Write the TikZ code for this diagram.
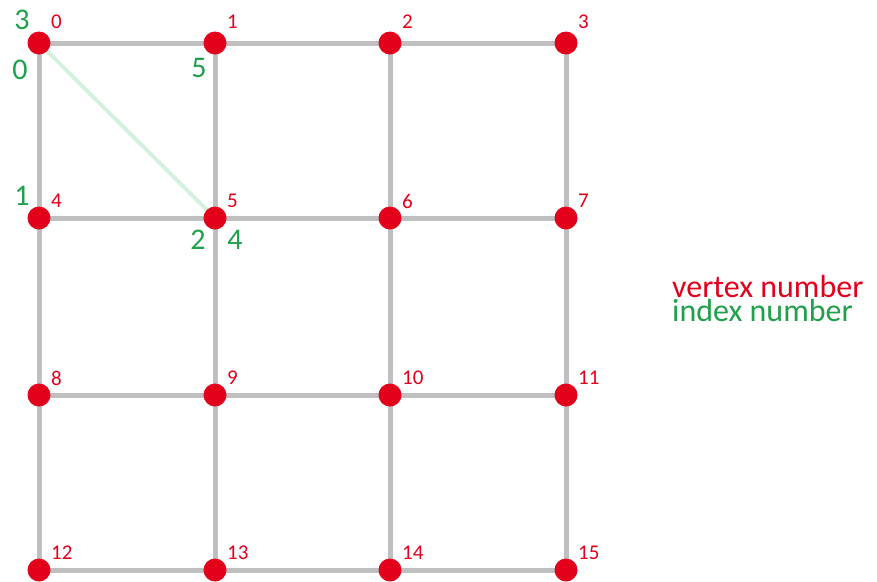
\documentclass[tikz,border=0pt]{standalone}
\usepackage{fontspec}
\setmainfont{Carlito}
\definecolor{vred}{HTML}{E2001A}
\definecolor{igreen}{HTML}{1FA04A}
\definecolor{egray}{HTML}{BFBFBF}
\definecolor{lgreen}{HTML}{D3F1DE}
\begin{document}
\begin{tikzpicture}[x=1pt,y=-1pt,
  vtx/.style={circle,fill=vred,inner sep=0pt,minimum size=23pt},
  edge/.style={egray,line width=5pt},
  diag/.style={lgreen,line width=4pt},
  vlab/.style={text=vred,font=\fontsize{21}{21}\selectfont,anchor=west,inner sep=0pt},
  ilab/.style={text=igreen,font=\fontsize{30}{30}\selectfont,inner sep=0pt},
  leg/.style={font=\fontsize{32}{32}\selectfont,anchor=base west,inner sep=0pt}]
\useasboundingbox (0,0) rectangle (877,581);
\foreach \i/\x/\y in {0/39/43,1/215/43,2/390/43,3/566/43,
                      4/39/218,5/215/218,6/390/218,7/566/218,
                      8/39/395,9/215/395,10/390/395,11/566/395,
                      12/39/570,13/215/570,14/390/570,15/566/570}
  \coordinate (p\i) at (\x,\y);
% grid edges
\foreach \a/\b in {0/1,1/2,2/3,4/5,5/6,6/7,8/9,9/10,10/11,12/13,13/14,14/15,
                   0/4,4/8,8/12,1/5,5/9,9/13,2/6,6/10,10/14,3/7,7/11,11/15}
  \draw[edge] (p\a) -- (p\b);
\draw[diag] (p0) -- (p5);
% vertices
\foreach \i in {0,...,15}
  \node[vtx] (v\i) at (p\i) {};
% vertex labels
\foreach \i/\dy in {0/-21,1/-21,2/-21,3/-21,4/-17,5/-17,6/-17,7/-17,
                    8/-17,9/-17,10/-17,11/-17,12/-17,13/-17,14/-17,15/-17}
  \node[vlab] (l\i) at ([xshift=12pt,yshift=-\dy pt]p\i) {\i};
% index labels
\node[ilab] (i3a) at (22,20) {3};
\node[ilab] (i0) at (20,70) {0};
\node[ilab] (i5) at (199,68) {5};
\node[ilab] (i1) at (22,196) {1};
\node[ilab] (i2) at (198,240) {2};
\node[ilab] (i4) at (235,240) {4};
% legend
\node[leg,text=vred] (lv) at (672,297) {vertex number};
\node[leg,text=igreen] (li) at (672,321) {index number};
\end{tikzpicture}
\end{document}
